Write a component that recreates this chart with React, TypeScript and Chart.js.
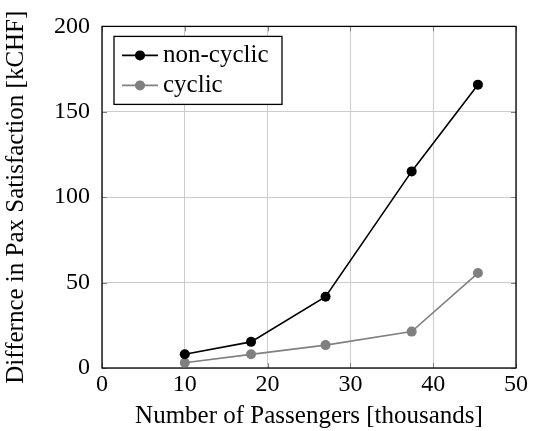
import React, { useEffect, useRef } from "react";
import { Chart, registerables } from "chart.js";

Chart.register(...registerables);

const passengers = [10, 18, 27, 37.4, 45.4];
const nonCyclic = [8, 15.3, 41.7, 115.1, 165.9];
const cyclic = [3.1, 8.0, 13.4, 21.3, 55.6];
const xTicks = [0, 10, 20, 30, 40, 50];
const yTicks = [0, 50, 100, 150, 200];
const seriesNames = ["non-cyclic", "cyclic"];
const xTitle = "Number of Passengers [thousands]";
const yTitle = "Differnce in Pax Satisfaction [kCHF]";

const FONT = "'Liberation Serif', 'Times New Roman', serif";
const BLACK = "#000000";
const GRAY = "#808080";

const overlay = {
  id: "overlay",
  beforeDatasetsDraw(chart: any) {
    const { ctx, chartArea: a, scales } = chart;
    ctx.save();
    // inward tick marks
    ctx.strokeStyle = "#808080";
    ctx.lineWidth = 1;
    const L = 5;
    xTicks.forEach((v) => {
      const px = Math.round(scales.x.getPixelForValue(v)) + 0.5;
      ctx.beginPath();
      ctx.moveTo(px, a.bottom);
      ctx.lineTo(px, a.bottom - L);
      ctx.moveTo(px, a.top);
      ctx.lineTo(px, a.top + L);
      ctx.stroke();
    });
    yTicks.forEach((v) => {
      const py = Math.round(scales.y.getPixelForValue(v)) + 0.5;
      ctx.beginPath();
      ctx.moveTo(a.left, py);
      ctx.lineTo(a.left + L, py);
      ctx.moveTo(a.right, py);
      ctx.lineTo(a.right - L, py);
      ctx.stroke();
    });
    // frame
    ctx.strokeStyle = BLACK;
    ctx.lineWidth = 1.3;
    ctx.strokeRect(a.left, a.top, a.right - a.left, a.bottom - a.top);
    ctx.restore();
  },
  afterDraw(chart: any) {
    const { ctx, chartArea: a } = chart;
    ctx.save();
    ctx.fillStyle = BLACK;
    ctx.font = `25px ${FONT}`;
    // x title
    ctx.textAlign = "center";
    ctx.textBaseline = "alphabetic";
    ctx.fillText(xTitle, (a.left + a.right) / 2, 423);
    // y title
    ctx.save();
    ctx.translate(23, (a.top + a.bottom) / 2);
    ctx.rotate(-Math.PI / 2);
    ctx.textAlign = "center";
    ctx.textBaseline = "alphabetic";
    ctx.fillText(yTitle, 0, 0);
    ctx.restore();
    // legend box
    const bx = a.left + 12, by = a.top + 10, bw = 168, bh = 68;
    ctx.fillStyle = "#ffffff";
    ctx.fillRect(bx, by, bw, bh);
    ctx.strokeStyle = BLACK;
    ctx.lineWidth = 1.3;
    ctx.strokeRect(bx, by, bw, bh);
    const colors = [BLACK, GRAY];
    seriesNames.forEach((name, i) => {
      const cy = by + 19 + i * 30;
      ctx.strokeStyle = colors[i];
      ctx.fillStyle = colors[i];
      ctx.lineWidth = 1.6;
      ctx.beginPath();
      ctx.moveTo(bx + 8, cy);
      ctx.lineTo(bx + 44, cy);
      ctx.stroke();
      ctx.beginPath();
      ctx.arc(bx + 26, cy, 5, 0, Math.PI * 2);
      ctx.fill();
      ctx.fillStyle = BLACK;
      ctx.font = `25px ${FONT}`;
      ctx.textAlign = "left";
      ctx.textBaseline = "middle";
      ctx.fillText(name, bx + 49, cy);
    });
    ctx.restore();
  },
};

export default function App() {
  const ref = useRef<HTMLCanvasElement>(null);
  useEffect(() => {
    document.body.style.margin = "0";
    const canvas = ref.current!;
    const chart = new Chart(canvas, {
      type: "scatter",
      data: {
        datasets: [
          {
            label: seriesNames[0],
            data: passengers.map((x, i) => ({ x, y: nonCyclic[i] })),
            showLine: true,
            borderColor: BLACK,
            backgroundColor: BLACK,
            borderWidth: 1.6,
            pointRadius: 5,
            pointBorderWidth: 0,
          },
          {
            label: seriesNames[1],
            data: passengers.map((x, i) => ({ x, y: cyclic[i] })),
            showLine: true,
            borderColor: GRAY,
            backgroundColor: GRAY,
            borderWidth: 1.6,
            pointRadius: 5,
            pointBorderWidth: 0,
          },
        ],
      },
      options: {
        responsive: false,
        animation: false,
        events: [],
        layout: { padding: { top: 24, right: 17, left: 0, bottom: 0 } },
        plugins: { legend: { display: false }, tooltip: { enabled: false } },
        scales: {
          x: {
            type: "linear",
            min: 0,
            max: 50,
            afterBuildTicks: (s: any) => {
              s.ticks = xTicks.map((v) => ({ value: v }));
            },
            afterFit: (s: any) => {
              s.height = 63;
            },
            grid: { color: "#cccccc", lineWidth: 1, drawTicks: false },
            border: { display: false },
            ticks: {
              color: BLACK,
              font: { family: FONT, size: 24 },
              padding: 2,
              maxRotation: 0,
            },
          },
          y: {
            type: "linear",
            min: 0,
            max: 200,
            afterBuildTicks: (s: any) => {
              s.ticks = yTicks.map((v) => ({ value: v }));
            },
            afterFit: (s: any) => {
              s.width = 102;
            },
            grid: { color: "#cccccc", lineWidth: 1, drawTicks: false },
            border: { display: false },
            ticks: {
              color: BLACK,
              font: { family: FONT, size: 24 },
              padding: 12,
            },
          },
        },
      },
      plugins: [overlay],
    });
    return () => chart.destroy();
  }, []);
  return <canvas ref={ref} width={533} height={431} style={{ display: "block" }} />;
}
